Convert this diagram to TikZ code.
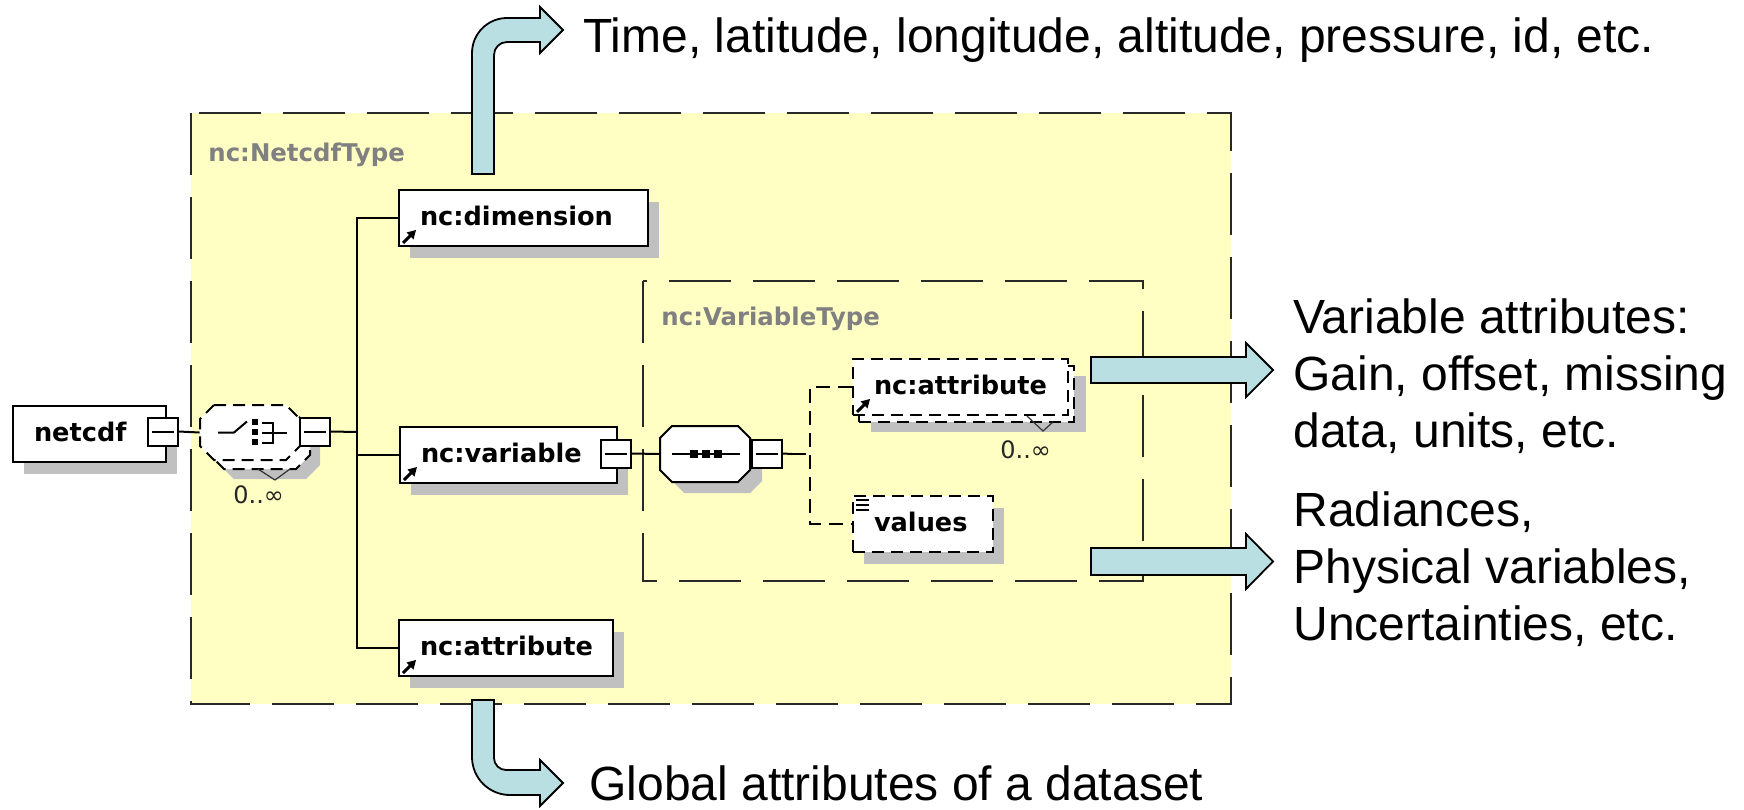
\documentclass[tikz,border=0pt]{standalone}
\usepackage{fontspec}
\setmainfont{Liberation Sans}
\newfontfamily\xsfont{DejaVu Sans}
\usetikzlibrary{shadows}
\definecolor{boxyellow}{RGB}{255,255,196}
\definecolor{arrowblue}{RGB}{185,223,226}
\definecolor{shadowgray}{RGB}{192,192,192}
\definecolor{typegray}{RGB}{128,128,128}
\definecolor{linegray}{RGB}{40,40,40}
\tikzset{
  outerbox/.style={draw=linegray, line width=1pt, fill=boxyellow, dash pattern=on 31pt off 11pt},
  innerbox/.style={draw=linegray, line width=1pt, dash pattern=on 31pt off 11pt},
  typelbl/.style={font=\xsfont\bfseries\fontsize{12.2}{14}\selectfont, text=typegray, inner sep=0pt, anchor=base west},
  elem/.style={rectangle, draw=black, line width=1pt, fill=white, inner xsep=10.5pt, inner ysep=0pt,
    minimum height=28pt, text height=10pt, text depth=2.5pt, align=left,
    font=\xsfont\bfseries\fontsize{12.8}{14}\selectfont, anchor=north west},
  shadowed/.style={drop shadow={shadow xshift=5.5pt, shadow yshift=-6pt, fill=shadowgray, opacity=1}},
  optional/.style={dash pattern=on 6pt off 3.5pt},
  collapse/.style={rectangle, draw=black, line width=1pt, fill=white, minimum width=15pt,
    minimum height=14pt, inner sep=0pt,
    path picture={\draw[line width=1pt] ([xshift=2pt]path picture bounding box.west) -- ([xshift=-2pt]path picture bounding box.east);}},
  anchorbox/.style={rectangle, inner sep=0pt, draw=none},
  oct/.style n args={5}{insert path={(#1+#5,#2) -- (#3-#5,#2) -- (#3,#2+#5) -- (#3,#4-#5) -- (#3-#5,#4) -- (#1+#5,#4) -- (#1,#4-#5) -- (#1,#2+#5) -- cycle}},
  compshape/.style={draw=black, line width=1pt, fill=white},
  compshadow/.style={fill=shadowgray},
  conn/.style={draw=black, line width=1pt},
  optconn/.style={draw=black, line width=1pt, dash pattern=on 7pt off 4pt},
  mult/.style={font=\xsfont\fontsize{12}{14}\selectfont, text=black!85, inner sep=0pt, anchor=base west},
  bigarrow/.style={draw=black, line width=0.9pt, fill=arrowblue, line join=miter},
  note/.style={font=\fontsize{24}{28.5}\selectfont, inner sep=0pt, align=left},
  notch/.style={draw=black!80, line width=0.6pt},
  linkicon/.pic={
    \draw[line width=1.5pt] (5,-4) -- (13,-12);
    \fill (18,-17) -- (8.5,-14.5) -- (15.5,-7.5) -- cycle;
  },
  listicon/.pic={
    \foreach \yy in {5,10,15} \draw[line width=0.8pt] (4,\yy) -- (17,\yy);
  }
}
\begin{document}
\begin{tikzpicture}[x=0.5pt,y=-0.5pt]
\useasboundingbox (0,0) rectangle (1744,809);

% container boxes
\path[outerbox] (191,113) rectangle (1231,704);
\path[innerbox] (643,281) rectangle (1143,581);
\node[typelbl] (ntype) at (208,161) {nc:NetcdfType};
\node[typelbl] (vtype) at (661,325) {nc:VariableType};

% element nodes
\node[elem, shadowed, text width=55.5pt] (netcdf) at (12,405) {netcdf};
\node[elem, shadowed, text width=103.5pt] (dim) at (398,189) {nc:dimension};
\node[elem, shadowed, text width=87.5pt] (var) at (399,426) {nc:variable};
\node[elem, shadowed, text width=86pt] (gattr) at (398,619) {nc:attribute};
\node[elem, optional, text width=86.5pt,
  general shadow={shadow xshift=9pt, shadow yshift=-8.5pt, fill=shadowgray},
  general shadow={shadow xshift=3pt, shadow yshift=-3.5pt, fill=white, draw=black, line width=1pt, optional}]
  (iattr) at (852,358) {nc:attribute};
\node[elem, optional, shadowed, text width=49pt] (vals) at (852,495) {values};

% compositors (named frames + octagon outlines)
\node[anchorbox, minimum width=50pt, minimum height=27.5pt] (choice) at (250,432.5) {};
\node[anchorbox, minimum width=45pt, minimum height=28pt] (seq) at (705,454) {};
\path[compshadow, oct={220}{424}{320}{479}{14}];
\path[compshape, optional, oct={210}{414}{310}{469}{14}];
\path[compshape, optional, oct={200}{405}{300}{460}{14}];
\path[compshadow, oct={672}{437}{762}{493}{12}];
\path[compshape, oct={660}{426}{750}{482}{12}];

% collapse buttons
\node[collapse] (netcdfcol) at (163,431.5) {};
\node[collapse] (chcol) at (315,431.5) {};
\node[collapse] (varcol) at (615.5,453.5) {};
\node[collapse] (seqcol) at (767,453.5) {};

% compositor symbols
\begin{scope}[shift={(choice.center)}]
  \draw[line width=1pt] (-32,0) -- (-16,0) -- (-3,-11);
  \fill (2,-14) rectangle (8,-8);
  \fill (2,-4) rectangle (8,2);
  \fill (2,6) rectangle (8,12);
  \draw[line width=1pt] (12,-10) -- (23,-10) -- (23,10) -- (12,10) (12,0) -- (37,0);
\end{scope}
\begin{scope}[shift={(seq.center)}]
  \draw[line width=1pt] (-33,0) -- (35,0);
  \fill (-15,-4) rectangle (-7,4);
  \fill (-3,-4) rectangle (5,4);
  \fill (9,-4) rectangle (17,4);
\end{scope}

% multiplicity notches and labels
\draw[notch] (258,469) -- (275,480) -- (290,469);
\draw[notch] (1027,416) -- (1043,431) -- (1053,422);
\node[mult] (chmult) at (233,503) {0..∞};
\node[mult] (iamult) at (1000,458) {0..∞};

% icons
\pic at (dim.south west) {linkicon};
\pic at (var.south west) {linkicon};
\pic at (gattr.south west) {linkicon};
\pic at (iattr.south west) {linkicon};
\pic at (vals.north west) {listicon};

% connectors
\coordinate (trunk) at (357,432);
\coordinate (seqj) at (792,454);
\coordinate (branch) at (810,454);
\draw[conn] (netcdfcol.east) -- (choice.west);
\draw[conn] (chcol.east) -- (trunk);
\draw[conn] (dim.west) -| (trunk) |- (gattr.west);
\draw[conn] (trunk |- var.west) -- (var.west);
\draw[conn] (varcol.east) -- (seq.west);
\draw[conn] (seqcol.east) -- (seqj);
\draw[optconn] (seqj) -- (branch);
\draw[optconn] (iattr.west) -| (branch) |- (vals.west);

% block arrows
\filldraw[bigarrow] (472,174) -- (472,53) .. controls (472,33.7) and (487.7,18) .. (507,18)
  -- (540,18) -- (540,7) -- (563,30) -- (540,53) -- (540,42) -- (507,42)
  .. controls (499.8,42) and (494,47.8) .. (494,55) -- (494,174) -- cycle;
\filldraw[bigarrow] (472,700) -- (472,757) .. controls (472,778) and (489,795) .. (510,795)
  -- (540,795) -- (540,806) -- (563,783) -- (540,760) -- (540,770) -- (506,770)
  .. controls (499.4,770) and (494,764.6) .. (494,758) -- (494,700) -- cycle;
\filldraw[bigarrow] (1091,357) -- (1246,357) -- (1246,343) -- (1273,370) -- (1246,397) -- (1246,383) -- (1091,383) -- cycle;
\filldraw[bigarrow] (1091,548) -- (1246,548) -- (1246,534) -- (1273,561.5) -- (1246,589) -- (1246,575) -- (1091,575) -- cycle;

% notes
\node[note, anchor=base west] (dimnote) at (583,52) {Time, latitude, longitude, altitude, pressure, id, etc.};
\node[note, anchor=base west] (gnote) at (589,800) {Global attributes of a dataset};
\node[note, anchor=north west] (vanote) at (1293,298) {Variable attributes:\\Gain, offset, missing\\data, units, etc.};
\node[note, anchor=north west] (vvnote) at (1293,491) {Radiances,\\Physical variables,\\Uncertainties, etc.};
\end{tikzpicture}
\end{document}
